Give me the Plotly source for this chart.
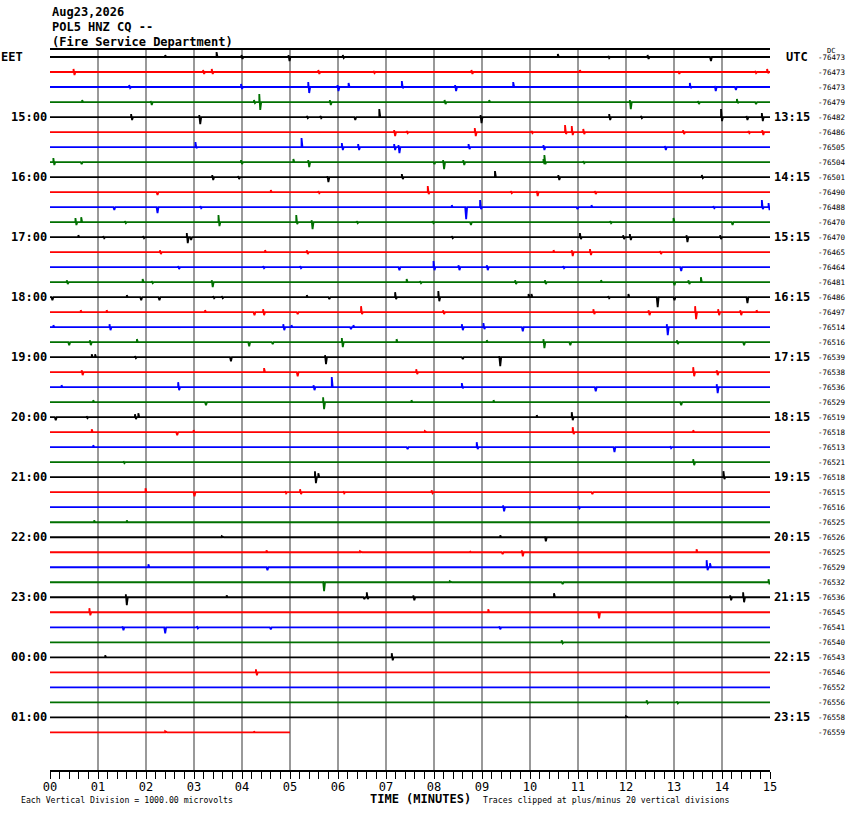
#!/usr/bin/env python3
import plotly.graph_objs as go

# helicorder header
title_lines = ["Aug23,2026", "POL5 HNZ CQ --", "(Fire Service Department)"]

# one trace per 15 minute line, colours cycle black / red / blue / green
trace_colors = ["#000000", "#ff0000", "#0000ff", "#007000"]

# left (local) and right (UTC) hour labels, every 4th line
left_labels = ["EET", "15:00", "16:00", "17:00", "18:00", "19:00", "20:00",
               "21:00", "22:00", "23:00", "00:00", "01:00"]
right_labels = ["UTC", "13:15", "14:15", "15:15", "16:15", "17:15", "18:15",
                "19:15", "20:15", "21:15", "22:15", "23:15"]

# DC offset printed at the end of each line
dc_values = [-76473, -76473, -76473, -76479, -76482, -76486, -76505, -76504,
             -76501, -76490, -76488, -76470, -76470, -76465, -76464, -76481,
             -76486, -76497, -76514, -76516, -76539, -76538, -76536, -76529,
             -76519, -76518, -76513, -76521, -76518, -76515, -76516, -76525,
             -76526, -76525, -76529, -76532, -76536, -76545, -76541, -76540,
             -76543, -76546, -76552, -76556, -76558, -76559]

# minutes recorded on each line (last one still running)
line_minutes = [15] * 45 + [5]

# wiggles per line: (minute, peak up in microvolts, peak down in microvolts)
events = [
    [(2.40, 130, 0), (3.47, 330, 0), (3.99, 130, 130), (4.97, 130, 270), (6.10, 130, 70),
     (10.58, 200, 0), (11.63, 70, 70), (12.45, 130, 130), (13.75, 0, 270)],
    [(0.49, 200, 200), (3.19, 130, 130), (3.37, 200, 130), (5.59, 130, 130), (6.74, 70, 70),
     (8.78, 130, 130), (11.04, 130, 0), (13.09, 70, 130), (14.69, 70, 70), (14.94, 200, 70)],
    [(1.65, 130, 70), (3.98, 200, 130), (5.38, 330, 400), (5.99, 130, 270), (6.22, 270, 0),
     (7.33, 400, 70), (8.44, 130, 270), (9.65, 330, 0), (13.33, 270, 70), (13.85, 70, 270),
     (14.27, 0, 200)],
    [(0.67, 130, 0), (2.10, 70, 200), (4.25, 130, 70), (4.36, 530, 530), (5.83, 130, 200),
     (8.22, 130, 130), (9.15, 130, 0), (12.08, 130, 470), (13.50, 70, 130), (14.31, 200, 70),
     (14.69, 0, 130)],
    [(1.69, 200, 200), (3.11, 130, 470), (5.35, 70, 70), (5.63, 70, 70), (6.34, 0, 200),
     (6.86, 530, 0), (8.97, 130, 400), (11.65, 200, 200), (12.31, 70, 70), (13.98, 530, 270),
     (14.51, 70, 200), (14.83, 270, 270)],
    [(7.17, 130, 270), (7.43, 70, 70), (8.85, 270, 270), (10.03, 70, 70), (10.73, 470, 130),
     (10.87, 400, 200), (11.11, 200, 130), (13.19, 130, 130), (14.55, 70, 70), (14.84, 130, 200)],
    [(3.03, 330, 70), (5.24, 600, 0), (6.08, 270, 200), (6.42, 200, 200), (7.17, 200, 200),
     (7.26, 130, 400), (8.72, 200, 130), (10.28, 130, 200), (12.81, 70, 200)],
    [(0.07, 270, 200), (0.64, 0, 130), (3.98, 130, 130), (5.07, 200, 0), (5.38, 130, 330),
     (7.99, 0, 130), (8.19, 130, 470), (8.61, 130, 200), (10.28, 200, 130), (10.30, 470, 130),
     (11.11, 70, 70)],
    [(3.38, 130, 200), (3.92, 70, 130), (5.78, 70, 330), (7.33, 200, 130), (9.27, 400, 0),
     (10.59, 130, 200), (13.58, 130, 70)],
    [(2.22, 0, 200), (4.60, 130, 0), (5.59, 70, 70), (7.87, 400, 130), (9.60, 70, 70),
     (10.14, 70, 270), (11.35, 70, 130)],
    [(1.32, 0, 200), (2.22, 0, 400), (3.13, 70, 70), (8.37, 130, 0), (8.65, 0, 800),
     (8.96, 470, 130), (10.97, 0, 130), (11.28, 130, 0), (13.82, 70, 70), (14.83, 470, 130),
     (14.97, 270, 200)],
    [(0.53, 270, 200), (0.65, 330, 0), (1.56, 70, 70), (3.51, 470, 270), (5.13, 470, 130),
     (5.45, 130, 470), (6.39, 70, 70), (7.97, 70, 70), (8.75, 0, 200), (11.67, 70, 70),
     (12.99, 270, 0), (14.20, 0, 200)],
    [(0.59, 130, 0), (1.11, 70, 70), (1.94, 70, 70), (2.85, 270, 400), (2.92, 0, 200),
     (8.37, 70, 70), (11.04, 270, 130), (11.94, 130, 130), (12.08, 200, 200), (13.26, 130, 330),
     (13.96, 130, 130)],
    [(2.29, 130, 130), (4.48, 130, 0), (5.35, 130, 130), (10.49, 130, 0), (10.87, 130, 270),
     (11.25, 200, 200), (12.71, 70, 130)],
    [(2.67, 70, 130), (4.44, 70, 70), (5.21, 70, 70), (7.26, 0, 200), (7.99, 400, 200),
     (8.51, 130, 200), (9.10, 130, 200), (10.69, 70, 70), (13.13, 0, 270)],
    [(0.35, 130, 130), (1.93, 200, 0), (2.12, 70, 70), (3.37, 130, 330), (7.43, 200, 0),
     (7.71, 70, 70), (9.69, 130, 130), (10.31, 130, 130), (11.48, 130, 0), (12.99, 0, 200),
     (13.30, 130, 130), (13.56, 330, 0)],
    [(0.03, 0, 200), (1.60, 130, 0), (1.88, 0, 200), (2.26, 0, 200), (3.40, 70, 70),
     (3.58, 70, 70), (5.35, 130, 0), (5.80, 0, 130), (7.19, 330, 130), (8.09, 400, 270),
     (9.97, 200, 0), (10.03, 200, 0), (11.63, 70, 70), (12.05, 200, 0), (12.64, 0, 670),
     (12.99, 0, 200), (14.51, 0, 400)],
    [(0.64, 130, 0), (1.18, 130, 0), (3.23, 130, 0), (4.24, 0, 200), (4.44, 200, 200),
     (5.14, 0, 130), (6.48, 400, 130), (8.19, 130, 130), (11.32, 200, 130), (12.47, 130, 200),
     (13.44, 400, 470), (13.92, 200, 200), (14.38, 130, 200), (14.72, 130, 0)],
    [(0.07, 130, 0), (1.24, 200, 200), (4.86, 200, 200), (5.03, 130, 0), (6.25, 0, 130),
     (6.32, 130, 0), (8.58, 200, 200), (9.03, 270, 130), (9.83, 0, 270), (12.85, 200, 530)],
    [(0.38, 0, 200), (0.83, 130, 200), (1.81, 200, 0), (4.13, 0, 270), (4.62, 0, 130),
     (6.08, 270, 330), (7.22, 200, 0), (9.10, 130, 0), (10.28, 200, 400), (10.82, 0, 200),
     (13.06, 130, 130), (14.44, 0, 200)],
    [(0.87, 200, 0), (0.94, 200, 0), (1.77, 70, 70), (3.75, 0, 270), (5.73, 130, 470),
     (8.58, 0, 130), (9.36, 70, 600)],
    [(0.66, 130, 200), (4.46, 270, 0), (5.14, 0, 270), (7.63, 200, 130), (13.40, 330, 270),
     (13.89, 130, 200)],
    [(0.24, 130, 0), (2.67, 330, 200), (5.49, 130, 200), (5.87, 670, 0), (8.58, 270, 70),
     (11.35, 0, 270), (13.89, 200, 400)],
    [(0.90, 130, 0), (3.23, 0, 200), (5.69, 330, 470), (7.53, 130, 0), (9.24, 130, 0),
     (13.13, 0, 200)],
    [(0.10, 0, 200), (0.76, 70, 70), (1.77, 200, 130), (1.84, 270, 0), (10.14, 130, 0),
     (10.87, 330, 200)],
    [(0.87, 200, 0), (2.63, 0, 200), (2.99, 130, 0), (7.81, 70, 0), (10.89, 330, 130),
     (13.40, 130, 0)],
    [(0.90, 130, 0), (7.43, 0, 130), (8.89, 330, 130), (11.74, 0, 330), (12.92, 70, 70)],
    [(1.53, 70, 70), (13.40, 200, 200)],
    [(5.52, 400, 400), (5.59, 270, 0), (14.03, 400, 130)],
    [(1.99, 270, 0), (2.99, 0, 270), (4.90, 70, 70), (5.21, 200, 130), (6.11, 70, 70),
     (7.95, 130, 70), (11.28, 0, 130)],
    [(9.44, 130, 270), (11.01, 70, 70)],
    [(0.92, 130, 0), (1.60, 130, 0)],
    [(3.58, 70, 0), (9.38, 130, 0), (10.31, 70, 270)],
    [(4.51, 130, 0), (6.46, 70, 0), (8.75, 70, 0), (9.41, 0, 130), (9.83, 130, 270),
     (13.47, 200, 0)],
    [(2.05, 200, 0), (4.51, 0, 200), (13.68, 470, 200), (13.75, 270, 0)],
    [(5.69, 70, 600), (8.33, 70, 0), (10.66, 0, 130), (14.97, 200, 130)],
    [(1.58, 200, 530), (3.68, 130, 0), (6.53, 0, 130), (6.60, 330, 130), (7.57, 130, 200),
     (10.50, 270, 0), (14.17, 130, 200), (14.44, 330, 330)],
    [(0.82, 270, 200), (9.13, 200, 0), (11.42, 0, 400)],
    [(1.51, 70, 200), (2.38, 0, 400), (3.06, 70, 70), (4.58, 0, 130), (9.36, 70, 130)],
    [(10.66, 130, 70)],
    [(1.15, 130, 0), (7.12, 270, 200)],
    [(4.29, 200, 200)],
    [],
    [(12.43, 130, 70), (13.06, 70, 70)],
    [(12.00, 70, 0)],
    [(2.40, 70, 0), (4.25, 70, 0)],
]

minute_labels = ["00", "01", "02", "03", "04", "05", "06", "07",
                 "08", "09", "10", "11", "12", "13", "14", "15"]

MONO = "DejaVu Sans Mono"
UV_PER_DIV = 1000.0


def line_path(row, evs, length):
    '''build the x/y path of one helicorder line, baseline at -row'''
    base = -row
    xs, ys = [0.0], [base]
    for t, up, dn in sorted(evs):
        up = up / UV_PER_DIV
        dn = dn / UV_PER_DIV
        xs += [t, t, t + 0.02, t + 0.04]
        ys += [base, base + up, base - dn, base]
    xs.append(length)
    ys.append(base)
    return xs, ys


fig = go.Figure()
for i in range(len(dc_values)):
    xs, ys = line_path(i, events[i], line_minutes[i])
    fig.add_trace(go.Scatter(x=xs, y=ys, mode="lines",
                             line=dict(color=trace_colors[i % 4], width=1.8),
                             hoverinfo="skip", showlegend=False))

annotations = []
# header
for k, txt in enumerate(title_lines):
    annotations.append(dict(xref="paper", yref="paper", x=0, y=1,
                            xanchor="left", yanchor="middle",
                            yshift=38 - 15 * k, showarrow=False,
                            text="<b>%s</b>" % txt,
                            font=dict(family=MONO, size=12, color="black")))
# hour labels both sides
for k in range(len(left_labels)):
    row = 4 * k
    if k == 0:
        annotations.append(dict(xref="paper", yref="y", x=0, y=-row,
                                xanchor="left", yanchor="middle", xshift=-51,
                                showarrow=False, text="<b>EET</b>",
                                font=dict(family=MONO, size=12, color="black")))
    else:
        annotations.append(dict(xref="paper", yref="y", x=0, y=-row,
                                xanchor="right", yanchor="middle", xshift=-1,
                                showarrow=False, text="<b>%s</b>" % left_labels[k],
                                font=dict(family=MONO, size=12, color="black")))
    annotations.append(dict(xref="paper", yref="y", x=1, y=-row,
                            xanchor="left", yanchor="middle",
                            xshift=14 if k == 0 else 2,
                            showarrow=False, text="<b>%s</b>" % right_labels[k],
                            font=dict(family=MONO, size=12, color="black")))
# DC values
for i, v in enumerate(dc_values):
    annotations.append(dict(xref="paper", yref="y", x=1, y=-i,
                            xanchor="left", yanchor="middle", xshift=46,
                            showarrow=False, text=str(v),
                            font=dict(family=MONO, size=7.5, color="black")))
annotations.append(dict(xref="paper", yref="paper", x=1, y=1,
                        xanchor="left", yanchor="middle", xshift=55, yshift=-1,
                        showarrow=False, text="DC",
                        font=dict(family=MONO, size=7, color="black")))
# footer
annotations.append(dict(xref="paper", yref="paper", x=0.514, y=0,
                        xanchor="center", yanchor="middle", yshift=-29,
                        showarrow=False, text="<b>TIME (MINUTES)</b>",
                        font=dict(family=MONO, size=12, color="black")))
annotations.append(dict(xref="paper", yref="paper", x=0, y=0,
                        xanchor="left", yanchor="middle", xshift=-31, yshift=-30,
                        showarrow=False,
                        text="Each Vertical Division = 1000.00 microvolts",
                        font=dict(family=MONO, size=8.2, color="black")))
annotations.append(dict(xref="paper", yref="paper", x=0, y=0,
                        xanchor="left", yanchor="middle", xshift=431, yshift=-30,
                        showarrow=False,
                        text="Traces clipped at plus/minus 20 vertical divisions",
                        font=dict(family=MONO, size=8.2, color="black")))

layout = go.Layout(
    width=850, height=814,
    margin=dict(l=50, r=80, t=50, b=44),
    paper_bgcolor="white", plot_bgcolor="white",
    xaxis=dict(range=[0, 15], tickvals=list(range(16)), ticktext=minute_labels,
               showgrid=True, gridcolor="#999999", gridwidth=1.5,
               zeroline=False, showline=True, linecolor="black", linewidth=1.5,
               mirror=True, ticks="outside", ticklen=7, tickwidth=1,
               tickcolor="black", ticklabelstandoff=-2,
               minor=dict(dtick=0.2, ticks="outside", ticklen=7,
                          tickcolor="black", tickwidth=1, showgrid=False),
               tickfont=dict(family=MONO, size=12, color="black"),
               tickprefix="<b>", ticksuffix="</b>"),
    yaxis=dict(range=[-47.51, 0.467], showgrid=False, zeroline=False,
               showticklabels=False, showline=False, ticks=""),
    annotations=annotations,
)

fig = go.Figure(data=fig.data, layout=layout)
# drop the default page margin so the figure sits in the corner of the window
fig.write_html("out.html", config={"displayModeBar": False},
               post_script="document.body.style.margin='0';"
                           "document.body.style.overflow='hidden';")
